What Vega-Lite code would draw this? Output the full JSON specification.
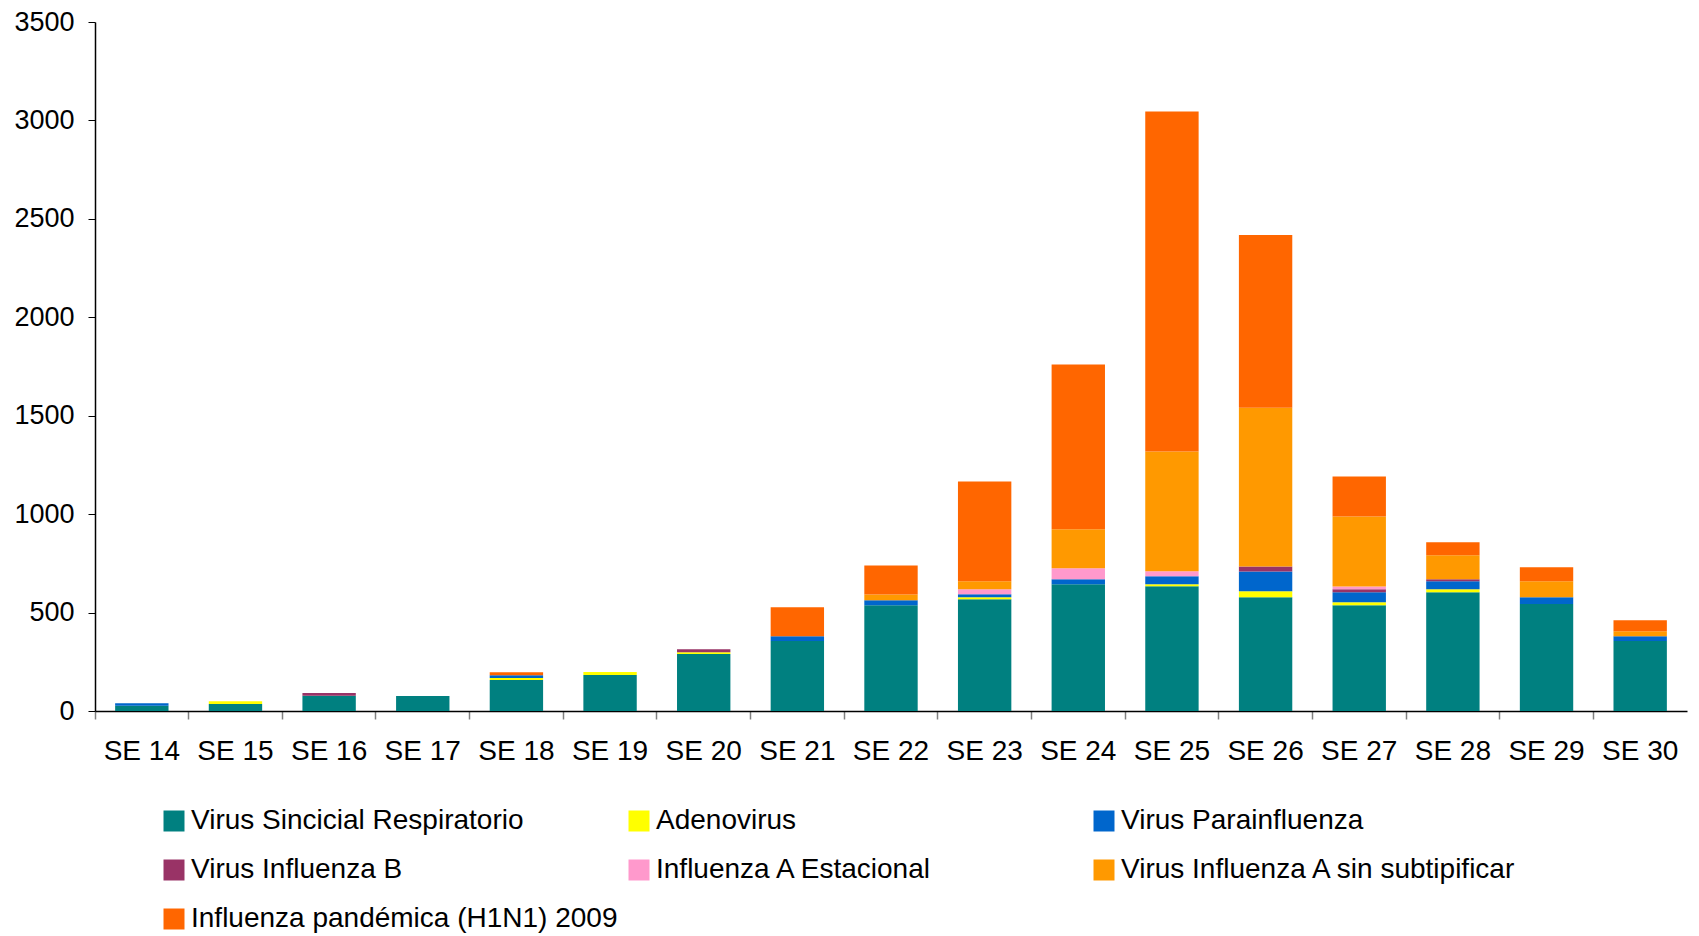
{
  "$schema": "https://vega.github.io/schema/vega-lite/v6.json",
  "width": 1592,
  "height": 689,
  "autosize": {"type": "none"},
  "padding": {"left": 95, "top": 22, "right": 12, "bottom": 225},
  "background": "white",
  "config": {
    "font": "Liberation Sans",
    "view": {"stroke": null}
  },
  "datasets": {
    "virusOrder": [
      {"virus": "Virus Sincicial Respiratorio", "rank": 1},
      {"virus": "Adenovirus", "rank": 2},
      {"virus": "Virus Parainfluenza", "rank": 3},
      {"virus": "Virus Influenza B", "rank": 4},
      {"virus": "Influenza A Estacional", "rank": 5},
      {"virus": "Virus Influenza A sin subtipificar", "rank": 6},
      {"virus": "Influenza pandémica (H1N1) 2009", "rank": 7}
    ]
  },
  "data": {
    "values": [
      {"se": "SE 14", "virus": "Virus Sincicial Respiratorio", "n": 27},
      {"se": "SE 14", "virus": "Virus Parainfluenza", "n": 13},
      {"se": "SE 15", "virus": "Virus Sincicial Respiratorio", "n": 35},
      {"se": "SE 15", "virus": "Adenovirus", "n": 15},
      {"se": "SE 16", "virus": "Virus Sincicial Respiratorio", "n": 78},
      {"se": "SE 16", "virus": "Virus Influenza B", "n": 13},
      {"se": "SE 17", "virus": "Virus Sincicial Respiratorio", "n": 76},
      {"se": "SE 18", "virus": "Virus Sincicial Respiratorio", "n": 157},
      {"se": "SE 18", "virus": "Adenovirus", "n": 10},
      {"se": "SE 18", "virus": "Virus Parainfluenza", "n": 15},
      {"se": "SE 18", "virus": "Influenza pandémica (H1N1) 2009", "n": 15},
      {"se": "SE 19", "virus": "Virus Sincicial Respiratorio", "n": 183},
      {"se": "SE 19", "virus": "Adenovirus", "n": 15},
      {"se": "SE 20", "virus": "Virus Sincicial Respiratorio", "n": 289},
      {"se": "SE 20", "virus": "Adenovirus", "n": 10},
      {"se": "SE 20", "virus": "Virus Influenza B", "n": 15},
      {"se": "SE 21", "virus": "Virus Sincicial Respiratorio", "n": 355},
      {"se": "SE 21", "virus": "Virus Parainfluenza", "n": 25},
      {"se": "SE 21", "virus": "Influenza pandémica (H1N1) 2009", "n": 147},
      {"se": "SE 22", "virus": "Virus Sincicial Respiratorio", "n": 537},
      {"se": "SE 22", "virus": "Virus Parainfluenza", "n": 25},
      {"se": "SE 22", "virus": "Virus Influenza A sin subtipificar", "n": 30},
      {"se": "SE 22", "virus": "Influenza pandémica (H1N1) 2009", "n": 147},
      {"se": "SE 23", "virus": "Virus Sincicial Respiratorio", "n": 568},
      {"se": "SE 23", "virus": "Adenovirus", "n": 10},
      {"se": "SE 23", "virus": "Virus Parainfluenza", "n": 15},
      {"se": "SE 23", "virus": "Influenza A Estacional", "n": 25},
      {"se": "SE 23", "virus": "Virus Influenza A sin subtipificar", "n": 41},
      {"se": "SE 23", "virus": "Influenza pandémica (H1N1) 2009", "n": 507},
      {"se": "SE 24", "virus": "Virus Sincicial Respiratorio", "n": 644},
      {"se": "SE 24", "virus": "Virus Parainfluenza", "n": 25},
      {"se": "SE 24", "virus": "Influenza A Estacional", "n": 56},
      {"se": "SE 24", "virus": "Virus Influenza A sin subtipificar", "n": 198},
      {"se": "SE 24", "virus": "Influenza pandémica (H1N1) 2009", "n": 837},
      {"se": "SE 25", "virus": "Virus Sincicial Respiratorio", "n": 634},
      {"se": "SE 25", "virus": "Adenovirus", "n": 10},
      {"se": "SE 25", "virus": "Virus Parainfluenza", "n": 41},
      {"se": "SE 25", "virus": "Influenza A Estacional", "n": 25},
      {"se": "SE 25", "virus": "Virus Influenza A sin subtipificar", "n": 608},
      {"se": "SE 25", "virus": "Influenza pandémica (H1N1) 2009", "n": 1727},
      {"se": "SE 26", "virus": "Virus Sincicial Respiratorio", "n": 578},
      {"se": "SE 26", "virus": "Adenovirus", "n": 30},
      {"se": "SE 26", "virus": "Virus Parainfluenza", "n": 101},
      {"se": "SE 26", "virus": "Virus Influenza B", "n": 25},
      {"se": "SE 26", "virus": "Virus Influenza A sin subtipificar", "n": 806},
      {"se": "SE 26", "virus": "Influenza pandémica (H1N1) 2009", "n": 878},
      {"se": "SE 27", "virus": "Virus Sincicial Respiratorio", "n": 537},
      {"se": "SE 27", "virus": "Adenovirus", "n": 15},
      {"se": "SE 27", "virus": "Virus Parainfluenza", "n": 51},
      {"se": "SE 27", "virus": "Virus Influenza B", "n": 15},
      {"se": "SE 27", "virus": "Influenza A Estacional", "n": 15},
      {"se": "SE 27", "virus": "Virus Influenza A sin subtipificar", "n": 355},
      {"se": "SE 27", "virus": "Influenza pandémica (H1N1) 2009", "n": 203},
      {"se": "SE 28", "virus": "Virus Sincicial Respiratorio", "n": 603},
      {"se": "SE 28", "virus": "Adenovirus", "n": 15},
      {"se": "SE 28", "virus": "Virus Parainfluenza", "n": 41},
      {"se": "SE 28", "virus": "Virus Influenza B", "n": 10},
      {"se": "SE 28", "virus": "Virus Influenza A sin subtipificar", "n": 122},
      {"se": "SE 28", "virus": "Influenza pandémica (H1N1) 2009", "n": 66},
      {"se": "SE 29", "virus": "Virus Sincicial Respiratorio", "n": 544},
      {"se": "SE 29", "virus": "Virus Parainfluenza", "n": 34},
      {"se": "SE 29", "virus": "Virus Influenza A sin subtipificar", "n": 81},
      {"se": "SE 29", "virus": "Influenza pandémica (H1N1) 2009", "n": 71},
      {"se": "SE 30", "virus": "Virus Sincicial Respiratorio", "n": 355},
      {"se": "SE 30", "virus": "Virus Parainfluenza", "n": 25},
      {"se": "SE 30", "virus": "Virus Influenza A sin subtipificar", "n": 25},
      {"se": "SE 30", "virus": "Influenza pandémica (H1N1) 2009", "n": 56}
    ]
  },
  "transform": [
    {"lookup": "virus", "from": {"data": {"name": "virusOrder"}, "key": "virus", "fields": ["rank"]}}
  ],
  "mark": {"type": "bar", "width": {"band": 0.57}},
  "encoding": {
    "x": {
      "field": "se",
      "type": "nominal",
      "title": null,
      "scale": {"paddingInner": 0, "paddingOuter": 0},
      "axis": {
        "bandPosition": 0,
        "labelAngle": 0,
        "labelFontSize": 28,
        "labelColor": "black",
        "labelPadding": 18,
        "tickSize": 8,
        "tickColor": "#808080",
        "tickWidth": 1.5,
        "domainColor": "black",
        "domainWidth": 1.5,
        "labelBound": false,
        "labelOverlap": false
      }
    },
    "y": {
      "field": "n",
      "type": "quantitative",
      "aggregate": "sum",
      "stack": "zero",
      "title": null,
      "scale": {"domain": [0, 3500], "nice": false},
      "axis": {
        "values": [0, 500, 1000, 1500, 2000, 2500, 3000, 3500],
        "format": "d",
        "grid": false,
        "labelFontSize": 27,
        "labelColor": "black",
        "labelPadding": 14,
        "tickSize": 7,
        "tickColor": "black",
        "domainColor": "black",
        "domainWidth": 1.5,
        "labelBound": false,
        "labelOverlap": false
      }
    },
    "color": {
      "field": "virus",
      "type": "nominal",
      "sort": ["Virus Sincicial Respiratorio", "Adenovirus", "Virus Parainfluenza", "Virus Influenza B", "Influenza A Estacional", "Virus Influenza A sin subtipificar", "Influenza pandémica (H1N1) 2009"],
      "scale": {
        "domain": ["Virus Sincicial Respiratorio", "Adenovirus", "Virus Parainfluenza", "Virus Influenza B", "Influenza A Estacional", "Virus Influenza A sin subtipificar", "Influenza pandémica (H1N1) 2009"],
        "range": ["#008080", "#FFFF00", "#0066CC", "#993366", "#FF99CC", "#FF9900", "#FF6600"]
      },
      "legend": {
        "title": null,
        "orient": "none",
        "legendX": 65,
        "legendY": 785,
        "direction": "horizontal",
        "columns": 3,
        "gridAlign": "all",
        "columnPadding": 7,
        "rowPadding": 21,
        "padding": 0,
        "symbolType": "square",
        "symbolSize": 441,
        "symbolStrokeWidth": 0,
        "symbolOpacity": 1,
        "labelFontSize": 28,
        "labelColor": "black",
        "labelOffset": 3,
        "labelLimit": 600
      }
    },
    "order": {"field": "rank", "type": "quantitative", "sort": "ascending"}
  }
}
